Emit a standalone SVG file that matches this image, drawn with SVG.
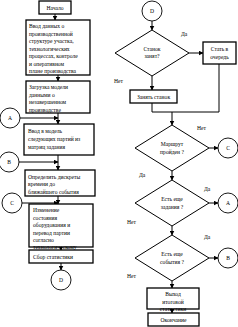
<svg xmlns="http://www.w3.org/2000/svg" width="238" height="327" viewBox="0 0 238 327">
<style>
.b{fill:#fff;stroke:#000;stroke-width:1.3}
.c{fill:#fff;stroke:#000;stroke-width:0.9}
.d{fill:#fff;stroke:#000;stroke-width:1}
.l{fill:none;stroke:#000;stroke-width:1}
text{font-family:"Liberation Serif","Times New Roman",serif;font-size:5.6px;fill:#000}
.m{text-anchor:middle}
</style>
<defs>
<marker id="ar" markerWidth="5" markerHeight="5" refX="4.5" refY="2.5" orient="auto" markerUnits="userSpaceOnUse">
<path d="M0,0 L5,2.5 L0,5 Z" fill="#000"/>
</marker>
</defs>
<g id="connectors">
<path class="l" d="M55,14 V20" marker-end="url(#ar)"/>
<path class="l" d="M58,75 V81" marker-end="url(#ar)"/>
<path class="l" d="M58,113 V124" marker-end="url(#ar)"/>
<path class="l" d="M20,118 H58" marker-end="url(#ar)"/>
<path class="l" d="M58,155 V170" marker-end="url(#ar)"/>
<path class="l" d="M19,162 H58" marker-end="url(#ar)"/>
<path class="l" d="M58,196 V204" marker-end="url(#ar)"/>
<path class="l" d="M22,203 H58" marker-end="url(#ar)"/>
<path class="l" d="M61,247 V250" marker-end="url(#ar)"/>
<path class="l" d="M61,263 V270" marker-end="url(#ar)"/>
<path class="l" d="M152,21 V30" marker-end="url(#ar)"/>
<path class="l" d="M189,53 H203" marker-end="url(#ar)"/>
<path class="l" d="M152,76 V90" marker-end="url(#ar)"/>
<path class="l" d="M152,103 V112 H219 V64"/>
<path class="l" d="M172,112 V125" marker-end="url(#ar)"/>
<path class="l" d="M209,148 H218" marker-end="url(#ar)"/>
<path class="l" d="M172,171 V180" marker-end="url(#ar)"/>
<path class="l" d="M209,203 H218" marker-end="url(#ar)"/>
<path class="l" d="M172,226 V235" marker-end="url(#ar)"/>
<path class="l" d="M209,258 H218" marker-end="url(#ar)"/>
<path class="l" d="M172,281 V288" marker-end="url(#ar)"/>
<path class="l" d="M172,309 V313" marker-end="url(#ar)"/>
</g>
<g id="labels">
<text x="181" y="36">Да</text>
<text x="114" y="83">Нет</text>
<text x="197" y="130">Нет</text>
<text x="139" y="177">Да</text>
<text x="204" y="191">Да</text>
<text x="127" y="224">Нет</text>
<text x="204" y="239">Да</text>
<text x="127" y="278">Нет</text>
</g>
<g id="start"><rect class="b" x="39" y="1" width="32" height="13"/><text class="m" x="55" y="9.7">Начало</text></g>
<g id="input"><rect class="b" x="26" y="20" width="64" height="55"/>
<text x="29" y="28">Ввод данных о</text>
<text x="29" y="35.5">производственной</text>
<text x="29" y="43">структуре участка,</text>
<text x="29" y="50.5">технологических</text>
<text x="29" y="58">процессах, контроле</text>
<text x="29" y="65.5">и оперативном</text>
<text x="29" y="73">плане производства</text></g>
<g id="load"><rect class="b" x="26" y="81" width="64" height="32"/>
<text x="29" y="89">Загрузка модели</text>
<text x="29" y="96.5">данными о</text>
<text x="29" y="104">незавершенном</text>
<text x="29" y="111.5">производстве</text></g>
<g id="next"><rect class="b" x="24" y="124" width="70" height="31"/>
<text x="28" y="133">Ввод в модель</text>
<text x="28" y="141">следующих партий из</text>
<text x="28" y="149">матриц задания</text></g>
<g id="define"><rect class="b" x="25" y="170" width="70" height="26"/>
<text x="28" y="178.5">Определить дискреты</text>
<text x="28" y="186">времени до</text>
<text x="28" y="193.5">ближайшего события</text></g>
<g id="change"><rect class="b" x="29" y="204" width="64" height="43"/>
<text x="33" y="212">Изменение</text>
<text x="33" y="219.5">состояния</text>
<text x="33" y="227">оборудования и</text>
<text x="33" y="234.5">перевод партии</text>
<text x="33" y="242">согласно</text>
<text x="33" y="249">технологическому</text></g>
<g id="stats"><rect class="b" x="29" y="250" width="64" height="13"/><text x="33" y="258.5">Сбор статистики</text></g>
<g id="circA1"><circle class="c" cx="10" cy="118" r="10"/><text class="m" x="10" y="120">A</text></g>
<g id="circB1"><circle class="c" cx="9" cy="162" r="10"/><text class="m" x="9" y="164">B</text></g>
<g id="circC1"><circle class="c" cx="12" cy="203" r="10"/><text class="m" x="12" y="205">C</text></g>
<g id="circD1"><circle class="c" cx="61" cy="280" r="10"/><text class="m" x="61" y="282">D</text></g>
<g id="circD2"><circle class="c" cx="152" cy="11" r="10"/><text class="m" x="152" y="13">D</text></g>
<g id="busy"><polygon class="d" points="152,30 189,53 152,76 115,53"/>
<text class="m" x="152" y="51">Станок</text><text class="m" x="152" y="58">занят?</text></g>
<g id="queue"><rect class="b" x="203" y="42" width="33" height="22"/>
<text class="m" x="219.5" y="51">Стать в</text><text class="m" x="219.5" y="58.5">очередь</text></g>
<g id="occupy"><rect class="b" x="130" y="90" width="47" height="13"/><text class="m" x="153.5" y="98.5">Занять станок</text></g>
<g id="route"><polygon class="d" points="172,125 209,148 172,171 135,148"/>
<text class="m" x="172" y="146">Маршрут</text><text class="m" x="172" y="154">пройден ?</text></g>
<g id="tasks"><polygon class="d" points="172,180 209,203 172,226 135,203"/>
<text class="m" x="172" y="201">Есть еще</text><text class="m" x="172" y="209">задания ?</text></g>
<g id="events"><polygon class="d" points="172,235 209,258 172,281 135,258"/>
<text class="m" x="172" y="256">Есть еще</text><text class="m" x="172" y="264">события ?</text></g>
<g id="circC2"><circle class="c" cx="228" cy="148" r="10"/><text class="m" x="228" y="150">C</text></g>
<g id="circA2"><circle class="c" cx="228" cy="203" r="10"/><text class="m" x="228" y="205">A</text></g>
<g id="circB2"><circle class="c" cx="228" cy="258" r="10"/><text class="m" x="228" y="260">B</text></g>
<g id="output"><rect class="b" x="147" y="288" width="52" height="21"/>
<text class="m" x="173" y="296">Выход</text><text class="m" x="173" y="303.5">итоговой</text><text class="m" x="173" y="311">статистики</text></g>
<g id="end"><rect class="b" x="148" y="313" width="51" height="13"/><text class="m" x="173.5" y="321.5">Окончание</text></g>
</svg>
